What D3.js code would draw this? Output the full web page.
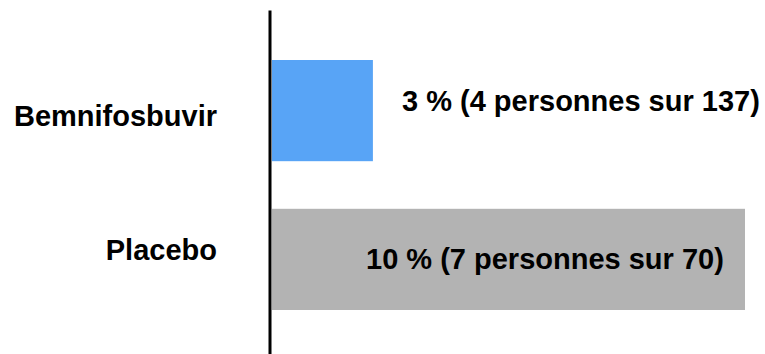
<!DOCTYPE html>
<html>
<head>
<meta charset="utf-8">
<script src="https://cdn.jsdelivr.net/npm/d3@7"></script>
<style>
  html, body { margin: 0; padding: 0; background: #fff; }
  svg { display: block; }
  text { font-family: "Liberation Sans", Arial, sans-serif; font-weight: bold; fill: #000; }
</style>
</head>
<body>
<svg id="chart" width="765" height="354"></svg>
<script>
// ---- data ----
const categories = ["Bemnifosbuvir", "Placebo"];
const percentages = [2.92, 10];
const valueLabels = ["3 % (4 personnes sur 137)", "10 % (7 personnes sur 70)"];
const colors = ["#58a4f6", "#b3b3b3"];

// ---- layout (not data) ----
const W = 765, H = 354;
const axisX = 270;
const catLabelLayout = [{ dy: 15.5 }, { dy: 1 }];
const valLabelLayout = [{ x: 402, dy: 0.5 }, { x: 366, dy: 10 }];

const svg = d3.select("#chart");

const x = d3.scaleLinear().domain([1, 10]).range([272, 745]);
const y = d3.scaleBand().domain(categories).range([60, 310]).paddingInner(0.32).paddingOuter(0);

const rows = categories.map((c, i) => ({ cat: c, value: percentages[i], label: valueLabels[i], color: colors[i], i }));

// bars
svg.append("g").selectAll("rect").data(rows).join("rect")
  .attr("x", x(1))
  .attr("y", d => y(d.cat))
  .attr("width", d => x(d.value) - x(1))
  .attr("height", y.bandwidth())
  .attr("fill", d => d.color);

// axis line
svg.append("line")
  .attr("x1", axisX).attr("x2", axisX)
  .attr("y1", 10.5).attr("y2", H)
  .attr("stroke", "#000").attr("stroke-width", 3);

// category labels
svg.append("g").selectAll("text").data(rows).join("text")
  .attr("x", 217)
  .attr("y", d => y(d.cat) + y.bandwidth() / 2 + catLabelLayout[d.i].dy)
  .attr("text-anchor", "end")
  .attr("font-size", 29)
  .text(d => d.cat);

// value labels
svg.append("g").selectAll("text").data(rows).join("text")
  .attr("x", d => valLabelLayout[d.i].x)
  .attr("y", d => y(d.cat) + y.bandwidth() / 2 + valLabelLayout[d.i].dy)
  .attr("font-size", 29)
  .text(d => d.label);
</script>
</body>
</html>
